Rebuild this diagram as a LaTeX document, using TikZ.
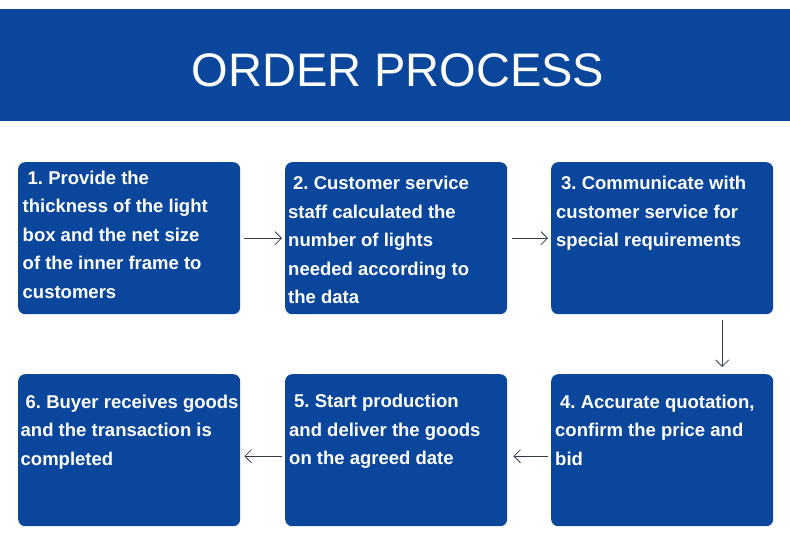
\documentclass[tikz,border=0pt]{standalone}
\usepackage{fontspec}
\setmainfont{Liberation Sans}
\usetikzlibrary{arrows.meta}
\definecolor{bandblue}{RGB}{10,71,156}
\definecolor{arrowgray}{RGB}{50,60,75}
\frenchspacing
\begin{document}
\begin{tikzpicture}[x=1pt,y=-1pt,
  stepbox/.style={fill=bandblue, rounded corners=7pt, draw=none, inner sep=0pt,
    minimum width=222pt, minimum height=152pt, anchor=north west},
  boxtext/.style={anchor=north west, inner sep=0pt, align=left, text=white,
    font=\frenchspacing\bfseries\fontsize{18.5}{28.5}\selectfont},
  flow/.style={draw=arrowgray, line width=0.8pt,
    -{Straight Barb[length=6.5pt,width=13pt,line width=0.8pt]}}]
\useasboundingbox (0,0) rectangle (790,555);
\fill[bandblue] (0,9) rectangle (790,121);
\node[text=white, font=\fontsize{47}{50}\selectfont] (title) at (398,70) {ORDER PROCESS};

\node[stepbox] (b1) at (18,162) {};
\node[stepbox] (b2) at (285,162) {};
\node[stepbox] (b3) at (551,162) {};
\node[stepbox] (b4) at (551,374) {};
\node[stepbox] (b5) at (285,374) {};
\node[stepbox] (b6) at (18,374) {};

\node[boxtext] (t1) at (22.5,170) {\rule{0pt}{14pt}\hspace*{5pt}1. Provide the\\thickness of the light\\box and the net size\\of the inner frame to\\customers};
\node[boxtext] (t2) at (288,175.5) {\rule{0pt}{14pt}\hspace*{5pt}2. Customer service\\staff calculated the\\number of lights\\needed according to\\the data};
\node[boxtext] (t3) at (556,175.5) {\rule{0pt}{14pt}\hspace*{5pt}3. Communicate with\\customer service for\\special requirements};
\node[boxtext] (t4) at (555,394) {\rule{0pt}{14pt}\hspace*{5pt}4. Accurate quotation,\\confirm the price and\\bid};
\node[boxtext] (t5) at (289,393.5) {\rule{0pt}{14pt}\hspace*{5pt}5. Start production\\and deliver the goods\\on the agreed date};
\node[boxtext] (t6) at (20.5,394) {\rule{0pt}{14pt}\hspace*{5pt}6. Buyer receives goods\\and the transaction is\\completed};

\draw[flow, shorten <=4pt, shorten >=3pt] (b1.east) -- (b2.west);
\draw[flow, shorten <=5pt, shorten >=3pt] (b2.east) -- (b3.west);
\draw[flow, shorten <=6pt, shorten >=7pt] ([xshift=60pt]b3.south) -- ([xshift=60pt]b4.north);
\draw[flow, shorten <=3pt, shorten >=6pt] ([yshift=-6pt]b4.west) -- ([yshift=-6pt]b5.east);
\draw[flow, shorten <=3pt, shorten >=4pt] ([yshift=-6pt]b5.west) -- ([yshift=-6pt]b6.east);
\end{tikzpicture}
\end{document}
